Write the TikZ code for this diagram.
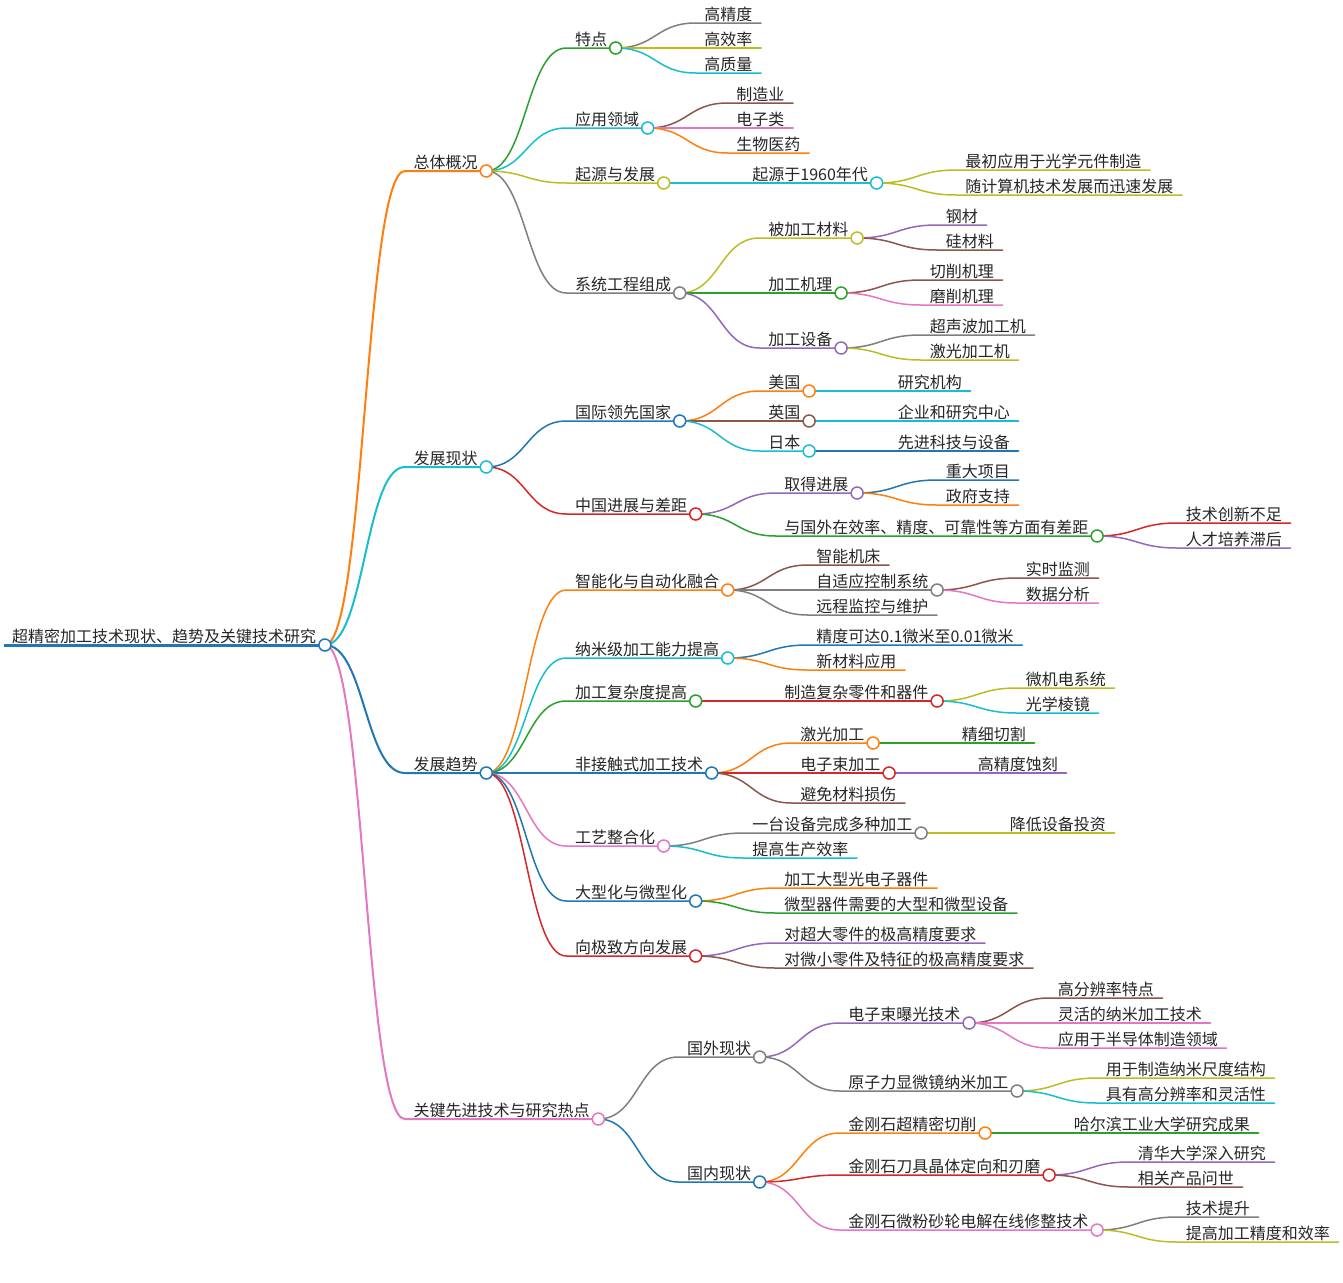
\documentclass[tikz,border=0pt]{standalone}
\usepackage{fontspec}
\setmainfont{Noto Sans CJK SC}
\usetikzlibrary{calc}
\definecolor{cblue}{HTML}{1F77B4}
\definecolor{corange}{HTML}{FF7F0E}
\definecolor{cgreen}{HTML}{2CA02C}
\definecolor{cred}{HTML}{D62728}
\definecolor{cpurple}{HTML}{9467BD}
\definecolor{cbrown}{HTML}{8C564B}
\definecolor{cpink}{HTML}{E377C2}
\definecolor{cgray}{HTML}{7F7F7F}
\definecolor{colive}{HTML}{BCBD22}
\definecolor{ccyan}{HTML}{17BECF}
\pgfdeclarelayer{fg}
\pgfsetlayers{main,fg}
\tikzset{
  mmbox/.style={anchor=south west, inner xsep=8.5pt, inner ysep=0pt, text height=12pt, text depth=2.5pt, font=\fontsize{16}{18}\selectfont, text=black!85},
  mmline/.style={line width=1.5pt, line cap=round},
  mmdot/.style={circle, fill=white, draw, line width=1.5pt, minimum size=12pt, inner sep=0pt},
}
\newcommand\mmn[5]{%
  \coordinate (#1-s) at ([xshift=80pt]#2.south east);
  \node[mmbox] (#1) at (#1-s |- 0,#3) {#5};
  \draw[mmline,#4] (#2.south east) .. controls +(40,0) and +(-40,0) .. (#1.south west) -- (#1.south east);
}
\newcommand\mmd[2]{\begin{pgfonlayer}{fg}\node[mmdot,draw=#2] (#1-dot) at (#1.south east) {};\end{pgfonlayer}}
\begin{document}
\begin{tikzpicture}[x=1pt,y=-1pt]
\useasboundingbox[fill=white] (0,0) rectangle (1343,1282);
% root
\node[mmbox] (root) at (3.5,645) {超精密加工技术现状、趋势及关键技术研究};
\draw[line width=3pt,cblue] (root.south west) -- (root.south east);
\mmd{root}{cblue}
% A
\mmn{a}{root}{171}{corange,line width=2pt}{总体概况} \mmd{a}{corange}
\mmn{a1}{a}{48}{cgreen}{特点} \mmd{a1}{cgreen}
\mmn{a11}{a1}{23}{cgray}{高精度}
\mmn{a12}{a1}{48}{colive}{高效率}
\mmn{a13}{a1}{73}{ccyan}{高质量}
\mmn{a2}{a}{128}{ccyan}{应用领域} \mmd{a2}{ccyan}
\mmn{a21}{a2}{103}{cbrown}{制造业}
\mmn{a22}{a2}{128}{cpink}{电子类}
\mmn{a23}{a2}{153}{corange}{生物医药}
\mmn{a3}{a}{183}{colive}{起源与发展} \mmd{a3}{colive}
\mmn{a31}{a3}{183}{ccyan}{起源于1960年代} \mmd{a31}{ccyan}
\mmn{a311}{a31}{170}{colive}{最初应用于光学元件制造}
\mmn{a312}{a31}{195}{colive}{随计算机技术发展而迅速发展}
\mmn{a4}{a}{293}{cgray}{系统工程组成} \mmd{a4}{cgray}
\mmn{a41}{a4}{238}{colive}{被加工材料} \mmd{a41}{colive}
\mmn{a411}{a41}{225}{cpurple}{钢材}
\mmn{a412}{a41}{250}{cbrown}{硅材料}
\mmn{a42}{a4}{293}{cgreen}{加工机理} \mmd{a42}{cgreen}
\mmn{a421}{a42}{280}{cbrown}{切削机理}
\mmn{a422}{a42}{305}{cpink}{磨削机理}
\mmn{a43}{a4}{348}{cpurple}{加工设备} \mmd{a43}{cpurple}
\mmn{a431}{a43}{335}{cgray}{超声波加工机}
\mmn{a432}{a43}{360}{colive}{激光加工机}
% B
\mmn{b}{root}{467}{ccyan,line width=2pt}{发展现状} \mmd{b}{ccyan}
\mmn{b1}{b}{421}{cblue}{国际领先国家} \mmd{b1}{cblue}
\mmn{b11}{b1}{391}{corange}{美国} \mmd{b11}{corange}
\mmn{b111}{b11}{391}{ccyan}{研究机构}
\mmn{b12}{b1}{421}{cbrown}{英国} \mmd{b12}{cbrown}
\mmn{b121}{b12}{421}{ccyan}{企业和研究中心}
\mmn{b13}{b1}{451}{ccyan}{日本} \mmd{b13}{ccyan}
\mmn{b131}{b13}{451}{cblue}{先进科技与设备}
\mmn{b2}{b}{514}{cred}{中国进展与差距} \mmd{b2}{cred}
\mmn{b21}{b2}{493}{cpurple}{取得进展} \mmd{b21}{cpurple}
\mmn{b211}{b21}{480}{cblue}{重大项目}
\mmn{b212}{b21}{505}{corange}{政府支持}
\mmn{b22}{b2}{536}{cgreen}{与国外在效率、精度、可靠性等方面有差距} \mmd{b22}{cgreen}
\mmn{b221}{b22}{523}{cred}{技术创新不足}
\mmn{b222}{b22}{548}{cpurple}{人才培养滞后}
% C
\mmn{c}{root}{773}{cblue,line width=2pt}{发展趋势} \mmd{c}{cblue}
\mmn{c1}{c}{590}{corange}{智能化与自动化融合} \mmd{c1}{corange}
\mmn{c11}{c1}{565}{cbrown}{智能机床}
\mmn{c12}{c1}{590}{cgray}{自适应控制系统} \mmd{c12}{cgray}
\mmn{c121}{c12}{578}{cbrown}{实时监测}
\mmn{c122}{c12}{603}{cpink}{数据分析}
\mmn{c13}{c1}{615}{cgray}{远程监控与维护}
\mmn{c2}{c}{658}{ccyan}{纳米级加工能力提高} \mmd{c2}{ccyan}
\mmn{c21}{c2}{645}{cblue}{精度可达0.1微米至0.01微米}
\mmn{c22}{c2}{670}{corange}{新材料应用}
\mmn{c3}{c}{701}{cgreen}{加工复杂度提高} \mmd{c3}{cgreen}
\mmn{c31}{c3}{701}{cred}{制造复杂零件和器件} \mmd{c31}{cred}
\mmn{c311}{c31}{688}{colive}{微机电系统}
\mmn{c312}{c31}{713}{ccyan}{光学棱镜}
\mmn{c4}{c}{773}{cblue}{非接触式加工技术} \mmd{c4}{cblue}
\mmn{c41}{c4}{743}{corange}{激光加工} \mmd{c41}{corange}
\mmn{c411}{c41}{743}{cgreen}{精细切割}
\mmn{c42}{c4}{773}{cred}{电子束加工} \mmd{c42}{cred}
\mmn{c421}{c42}{773}{cpurple}{高精度蚀刻}
\mmn{c43}{c4}{803}{cbrown}{避免材料损伤}
\mmn{c5}{c}{846}{cpink}{工艺整合化} \mmd{c5}{cpink}
\mmn{c51}{c5}{833}{cgray}{一台设备完成多种加工} \mmd{c51}{cgray}
\mmn{c511}{c51}{833}{colive}{降低设备投资}
\mmn{c52}{c5}{858}{ccyan}{提高生产效率}
\mmn{c6}{c}{901}{cblue}{大型化与微型化} \mmd{c6}{cblue}
\mmn{c61}{c6}{888}{corange}{加工大型光电子器件}
\mmn{c62}{c6}{913}{cgreen}{微型器件需要的大型和微型设备}
\mmn{c7}{c}{956}{cred}{向极致方向发展} \mmd{c7}{cred}
\mmn{c71}{c7}{943}{cpurple}{对超大零件的极高精度要求}
\mmn{c72}{c7}{968}{cbrown}{对微小零件及特征的极高精度要求}
% D
\mmn{d}{root}{1119}{cpink,line width=2pt}{关键先进技术与研究热点} \mmd{d}{cpink}
\mmn{d1}{d}{1057}{cgray}{国外现状} \mmd{d1}{cgray}
\mmn{d11}{d1}{1023}{cpurple}{电子束曝光技术} \mmd{d11}{cpurple}
\mmn{d111}{d11}{998}{cbrown}{高分辨率特点}
\mmn{d112}{d11}{1023}{cpink}{灵活的纳米加工技术}
\mmn{d113}{d11}{1048}{cpink}{应用于半导体制造领域}
\mmn{d12}{d1}{1091}{cgray}{原子力显微镜纳米加工} \mmd{d12}{cgray}
\mmn{d121}{d12}{1078}{colive}{用于制造纳米尺度结构}
\mmn{d122}{d12}{1103}{ccyan}{具有高分辨率和灵活性}
\mmn{d2}{d}{1182}{cblue}{国内现状} \mmd{d2}{cblue}
\mmn{d21}{d2}{1133}{corange}{金刚石超精密切削} \mmd{d21}{corange}
\mmn{d211}{d21}{1133}{cgreen}{哈尔滨工业大学研究成果}
\mmn{d22}{d2}{1175}{cred}{金刚石刀具晶体定向和刃磨} \mmd{d22}{cred}
\mmn{d221}{d22}{1162}{cpurple}{清华大学深入研究}
\mmn{d222}{d22}{1187}{cbrown}{相关产品问世}
\mmn{d23}{d2}{1230}{cpink}{金刚石微粉砂轮电解在线修整技术} \mmd{d23}{cpink}
\mmn{d231}{d23}{1217}{cgray}{技术提升}
\mmn{d232}{d23}{1242}{colive}{提高加工精度和效率}
\end{tikzpicture}
\end{document}
